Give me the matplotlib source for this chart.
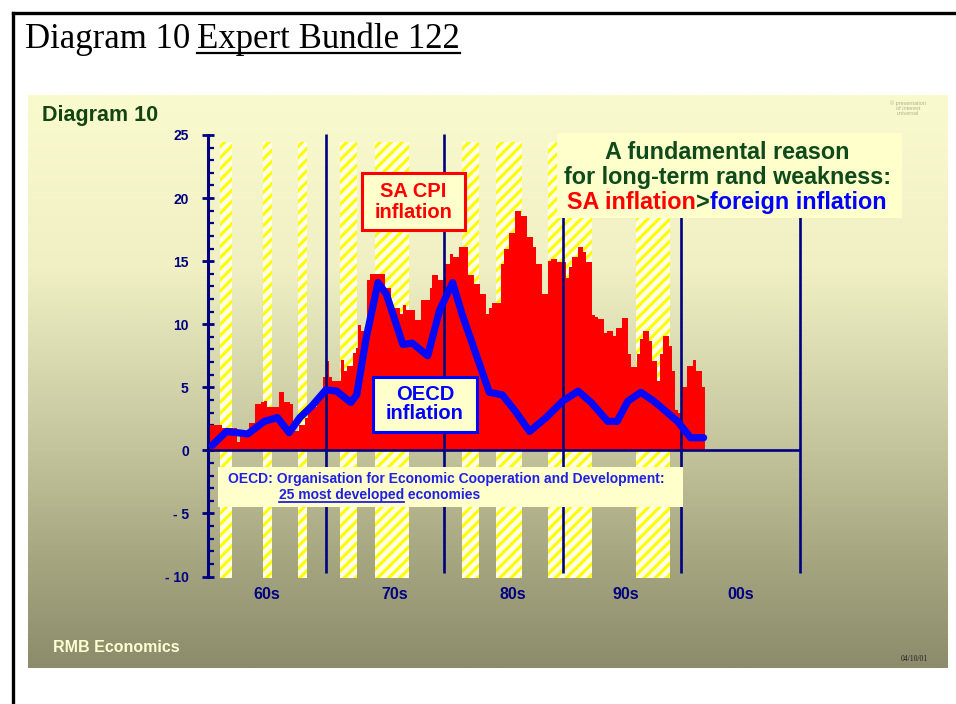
import numpy as np
import matplotlib.pyplot as plt
from matplotlib.patches import Rectangle
from matplotlib.colors import LinearSegmentedColormap

plt.rcParams['font.family'] = ['Liberation Sans', 'DejaVu Sans']
plt.rcParams['hatch.linewidth'] = 2.2

W, H = 956, 704

# SA CPI inflation (% y/y), quarterly steps starting 1960 Q1
sa_start = 1960.0
sa_cpi = [
    1.3, 2.0, 2.0, 2.0, 2.0, 1.8, 1.8, 1.8, 1.8, 1.8,
    0.7, 1.4, 1.4, 1.4, 2.2, 2.2, 3.7, 3.7, 3.8, 3.9,
    3.4, 3.4, 3.4, 3.4, 4.6, 4.6, 3.8, 3.8, 3.7, 1.5,
    1.5, 2.0, 2.0, 2.6, 3.4, 3.4, 3.4, 4.2, 4.2, 5.8,
    7.1, 5.8, 5.5, 5.5, 5.5, 7.2, 6.3, 6.7, 6.7, 7.7,
    8.1, 9.9, 9.5, 9.5, 13.5, 14.0, 14.0, 14.0, 14.0, 14.0,
    12.9, 12.9, 11.3, 11.3, 11.3, 10.8, 11.5, 11.1, 11.1, 11.1,
    10.3, 10.3, 11.9, 11.9, 11.9, 12.9, 13.9, 13.9, 13.5, 13.5,
    14.8, 14.8, 15.6, 15.3, 15.3, 16.1, 16.1, 16.1, 13.9, 13.9,
    13.2, 13.2, 12.4, 12.4, 10.8, 11.3, 11.7, 11.7, 11.7, 14.8,
    16.0, 16.0, 17.2, 17.2, 19.0, 19.0, 18.6, 18.6, 16.9, 16.9,
    16.1, 14.8, 14.8, 12.4, 12.4, 15.0, 15.2, 15.2, 14.9, 14.9,
    14.9, 13.7, 14.5, 15.3, 15.3, 16.1, 16.1, 15.7, 14.9, 14.9,
    10.7, 10.6, 10.4, 10.4, 9.3, 9.5, 9.5, 9.1, 9.7, 9.7,
    10.5, 10.5, 7.6, 6.6, 6.6, 7.6, 8.8, 9.5, 9.5, 8.7,
    7.1, 7.1, 5.5, 7.6, 9.1, 9.1, 8.3, 6.3, 3.2, 3.0,
    5.0, 5.0, 6.7, 6.7, 7.2, 6.3, 6.3, 5.0,
]

# OECD inflation (%)
oecd_years = [1960.4, 1961.6, 1963.4, 1964.8, 1965.9, 1966.9, 1967.8, 1968.8,
              1970.0, 1970.9, 1972.1, 1972.6, 1973.4, 1974.4, 1975.1, 1976.5,
              1977.3, 1978.6, 1979.6, 1980.7, 1981.5, 1983.8, 1984.9, 1986.0,
              1987.2, 1988.6, 1990.0, 1991.3, 1992.4, 1993.8, 1994.6, 1995.5,
              1996.6, 1997.7, 1999.7, 2000.8, 2001.9]
oecd_infl = [0.4, 1.5, 1.3, 2.3, 2.6, 1.4, 2.6, 3.5,
             4.8, 4.7, 3.8, 4.4, 8.9, 13.3, 12.4, 8.4,
             8.5, 7.5, 11.1, 13.3, 10.8, 4.6, 4.4, 3.1,
             1.5, 2.6, 3.9, 4.7, 3.8, 2.3, 2.3, 3.9,
             4.6, 3.9, 2.3, 1.0, 1.0]

# business-cycle downswings (hatched bands)
rec_start = [1961.07, 1964.67, 1967.62, 1971.2, 1974.15, 1981.49, 1984.4, 1988.8, 1996.2]
rec_end = [1962.08, 1965.46, 1968.38, 1972.66, 1977.05, 1982.9, 1986.6, 1992.5, 1999.05]

decade_lines = [1970, 1980, 1990, 2000, 2010]
decade_labels = ['60s', '70s', '80s', '90s', '00s']
decade_label_x = [1965.0, 1975.8, 1985.8, 1995.3, 2005.0]

yticks = [25, 20, 15, 10, 5, 0, -5, -10]
ytick_labels = ['25', '20', '15', '10', '5', '0', '- 5', '- 10']

NAVY = '#000080'
BOX = '#FFFFCC'

fig = plt.figure(figsize=(W / 100, H / 100), dpi=100)

# ---- page background / header ----
bg = fig.add_axes([0, 0, 1, 1], zorder=0)
stops = [(0.0, (250, 250, 207)), (0.3, (240, 240, 196)), (0.55, (206, 206, 166)),
         (0.78, (170, 170, 132)), (1.0, (140, 140, 108))]
cmap = LinearSegmentedColormap.from_list('slide', [(p, tuple(c / 255 for c in col)) for p, col in stops])
bg.imshow(np.linspace(0, 1, 256).reshape(-1, 1), cmap=cmap, aspect='auto',
          extent=[28, 948, 668, 95], interpolation='bilinear')
bg.set_xlim(0, W)
bg.set_ylim(H, 0)
bg.axis('off')

bg.plot([13, W], [13, 13], color='black', lw=2.4, solid_capstyle='projecting')
bg.plot([13, 13], [13, H], color='black', lw=2.4, solid_capstyle='projecting')

bg.text(25, 48, 'Diagram 10', family='Liberation Serif', fontsize=25, va='baseline')
hdr = bg.text(197, 48, 'Expert Bundle 122', family='Liberation Serif', fontsize=25, va='baseline')

bg.text(42, 116, 'Diagram 10', fontsize=15.5, weight='bold', color='#124512', va='center')
bg.text(53, 648, 'RMB Economics', fontsize=11.5, weight='bold', color='#FFFFD2', va='center')
bg.text(928, 659, '04/10/01', family='Liberation Serif', fontsize=5.5, color='#202020',
        ha='right', va='center')
bg.text(908, 108, '\u00a9 presentation\nof interest\nuniversal', fontsize=4, color='#B4B48E',
        ha='center', va='center', linespacing=1.0)

# ---- chart ----
x0, x1 = 207.5, 799.5
y_top, y_bot = 135, 576.5
ax = fig.add_axes([x0 / W, 1 - y_bot / H, (x1 - x0) / W, (y_bot - y_top) / H], zorder=1)
ax.patch.set_alpha(0)
ax.set_xlim(1960, 2010)
ax.set_ylim(-10, 25)

for s, e in zip(rec_start, rec_end):
    ax.fill_between([s, e], -10.1, 24.45, facecolor='#FFFFE6', edgecolor='#FFFF00',
                    hatch='///', linewidth=0, zorder=1, clip_on=False)

edges = sa_start + 0.25 * np.arange(len(sa_cpi) + 1)
ax.stairs(sa_cpi, edges, baseline=0, fill=True, color='#FF0000', zorder=2)

vl = ax.vlines(decade_lines, -9.75, 25.1, colors=NAVY, lw=1.9, zorder=3)
vl.set_clip_on(False)
ax.hlines(0, 1960, 2010, colors=NAVY, lw=1.9, zorder=3)

ax.plot(oecd_years, oecd_infl, color='#0808F8', lw=5.2, solid_joinstyle='round',
        solid_capstyle='round', zorder=4)

for sp in ['top', 'right', 'bottom']:
    ax.spines[sp].set_visible(False)
ax.spines['left'].set_color(NAVY)
ax.spines['left'].set_linewidth(2.2)
ax.set_xticks([])
ax.set_yticks(yticks, ytick_labels)
ax.set_yticks(range(-10, 26), minor=True)
ax.tick_params(axis='y', which='major', direction='inout', length=9, width=2,
               color=NAVY, labelcolor=NAVY, labelsize=10, pad=9)
ax.tick_params(axis='y', which='minor', direction='in', length=4, width=1.6, color=NAVY)
for lbl in ax.get_yticklabels():
    lbl.set_fontweight('bold')

for xl, lab in zip(decade_label_x, decade_labels):
    ax.text(xl, -11.45, lab, ha='center', va='center', fontsize=11.5, weight='bold',
            color=NAVY, clip_on=False)

# ---- annotation overlay ----
ov = fig.add_axes([0, 0, 1, 1], zorder=2)
ov.patch.set_alpha(0)
ov.set_xlim(0, W)
ov.set_ylim(H, 0)
ov.axis('off')

ov.add_patch(Rectangle((362, 173), 103, 57, facecolor=BOX, edgecolor='#FF0000', lw=2.2))
ov.text(413.5, 202, 'SA CPI\ninflation', ha='center', va='center', fontsize=14.5,
        weight='bold', color='#FF0000', linespacing=1.15)

ov.add_patch(Rectangle((373, 377), 104, 55, facecolor=BOX, edgecolor='#0000FF', lw=2.2))
ov.text(425, 404, 'OECD\ninflation', ha='center', va='center', fontsize=14.5,
        weight='bold', color='#0000FF', linespacing=1.05)

ov.add_patch(Rectangle((557, 133), 345, 85, facecolor=BOX, edgecolor='none'))
GREEN = '#0E4A1A'
ov.text(727, 152.5, 'A fundamental reason', ha='center', va='center', fontsize=16.8,
        weight='bold', color=GREEN)
ov.text(728, 177.5, 'for long-term rand weakness:', ha='center', va='center', fontsize=16.8,
        weight='bold', color=GREEN)
parts = [('SA inflation', '#FF0000'), ('>', GREEN), ('foreign inflation', '#0000FF')]
ptexts = [ov.text(0, 202.5, t, ha='left', va='center', fontsize=16.8, weight='bold', color=c)
          for t, c in parts]

ov.add_patch(Rectangle((218, 467), 465, 40, facecolor=BOX, edgecolor='none'))
FN = '#1F1FE6'
ov.text(228, 479, 'OECD: Organisation for Economic Cooperation and Development:',
        fontsize=10, weight='bold', color=FN, va='center')
fn1 = ov.text(279, 495, '25 most developed', fontsize=10, weight='bold', color=FN, va='center')
fn2 = ov.text(0, 495, ' economies', fontsize=10, weight='bold', color=FN, va='center')

fig.canvas.draw()
r = fig.canvas.get_renderer()

# colored third line, centred
widths = [t.get_window_extent(r).width for t in ptexts]
xs = 727 - sum(widths) / 2
for t, w in zip(ptexts, widths):
    t.set_x(xs)
    xs += w

b = fn1.get_window_extent(r)
fn2.set_x(b.x1)
ov.plot([b.x0, b.x1], [502, 502], color=FN, lw=1.3)

b = hdr.get_window_extent(r)
bg.plot([b.x0, b.x1], [52.5, 52.5], color='black', lw=1.6)

fig.savefig('out.png', dpi=100)
